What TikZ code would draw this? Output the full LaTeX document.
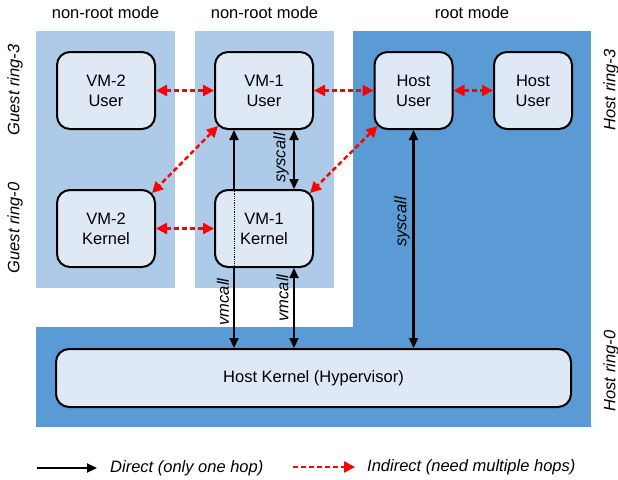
\documentclass[tikz,border=0pt]{standalone}
\usepackage{fontspec}
\setmainfont{Liberation Sans}
\usetikzlibrary{arrows.meta}
\definecolor{panellight}{RGB}{173,203,233}
\definecolor{paneldark}{RGB}{91,155,213}
\definecolor{nodefill}{RGB}{222,233,245}
\begin{document}
\begin{tikzpicture}[x=1pt,y=-1pt,
  txt/.style={font=\fontsize{16.5}{20}\selectfont},
  box/.style={draw=black, line width=2pt, rounded corners=13pt, fill=nodefill,
    align=center, inner sep=0pt, txt},
  vmbox/.style={box, minimum width=98pt, minimum height=77pt},
  hubox/.style={box, minimum width=78pt, minimum height=77pt},
  dline/.style={line width=2.2pt, >={Triangle[length=10pt,width=9pt]}},
  rline/.style={red, line width=2.4pt, dash pattern=on 5pt off 3pt,
    >={Triangle[length=11pt,width=11pt]}},
  lbl/.style={font=\fontsize{16.5}{20}\selectfont\itshape, inner sep=0pt},
  ]
\useasboundingbox (0,0) rectangle (618,479);

% panels
\fill[panellight] (36,31) rectangle (175,288);
\fill[panellight] (195,31) rectangle (334,288);
\fill[paneldark] (353,31) rectangle (591,427);
\fill[paneldark] (36,327) rectangle (591,427);

% headings
\node[txt] (h1) at (105.5,13) {non-root mode};
\node[txt] (h2) at (264.5,13) {non-root mode};
\node[txt] (h3) at (472,13) {root mode};

% side labels
\node[lbl, rotate=90] (s1) at (15,90) {Guest ring-3};
\node[lbl, rotate=90] (s2) at (15,228) {Guest ring-0};
\node[lbl, rotate=90] (s3) at (611,90) {Host ring-3};
\node[lbl, rotate=90] (s4) at (611,371) {Host ring-0};

% nodes
\node[vmbox] (vm2u) at (106,90.5) {VM-2\\User};
\node[vmbox] (vm1u) at (264,90.5) {VM-1\\User};
\node[hubox] (hu1) at (413.5,90.5) {Host\\User};
\node[hubox] (hu2) at (533,90.5) {Host\\User};
\node[vmbox] (vm2k) at (106,228.5) {VM-2\\Kernel};
\node[vmbox] (vm1k) at (264,228.5) {VM-1\\Kernel};
\node[box, minimum width=515pt, minimum height=58pt] (hk) at (313.5,378) {Host Kernel (Hypervisor)};

% direct connectors
\draw[dline,<-] ([xshift=-30pt]vm1u.south) -- ([xshift=-30pt]vm1k.north);
\draw[densely dotted, line width=0.8pt] ([xshift=-30pt]vm1k.north) -- ([xshift=-30pt]vm1k.south);
\draw[dline,->] ([xshift=-30pt]vm1k.south) -- ([xshift=-30pt]vm1k.south |- hk.north);
\draw[dline,<->] ([xshift=30pt]vm1u.south) -- ([xshift=30pt]vm1k.north);
\draw[dline,<->] ([xshift=30pt]vm1k.south) -- ([xshift=30pt]vm1k.south |- hk.north);
\draw[dline,<->] (hu1.south) -- (hu1.south |- hk.north);

\node[lbl, rotate=90] (l1) at (223,302) {vmcall};
\node[lbl, rotate=90] (l2) at (282.5,298) {vmcall};
\node[lbl, rotate=90] (l3) at (281,158) {syscall};
\node[lbl, rotate=90] (l4) at (402,222) {syscall};

% indirect connectors
\draw[rline,<->] (vm2u) -- (vm1u);
\draw[rline,<->] (vm1u) -- (hu1);
\draw[rline,<->] (hu1) -- (hu2);
\draw[rline,<->] (vm2k) -- (vm1k);
\draw[rline,<->] ([shift={(4,-4)}]vm1u.south west) -- ([shift={(-4,4)}]vm2k.north east);
\draw[rline,<->] ([shift={(4,-4)}]hu1.south west) -- ([shift={(-4,4)}]vm1k.north east);

% legend
\coordinate (la) at (37,468);
\coordinate (lb) at (97,468);
\draw[dline,->] (la) -- (lb);
\node[lbl, anchor=west] (lt1) at (110,468) {Direct (only one hop)};
\coordinate (lc) at (293,467);
\coordinate (ld) at (355,467);
\draw[rline,->] (lc) -- (ld);
\node[lbl, anchor=west] (lt2) at (367,467) {Indirect (need multiple hops)};
\end{tikzpicture}
\end{document}
